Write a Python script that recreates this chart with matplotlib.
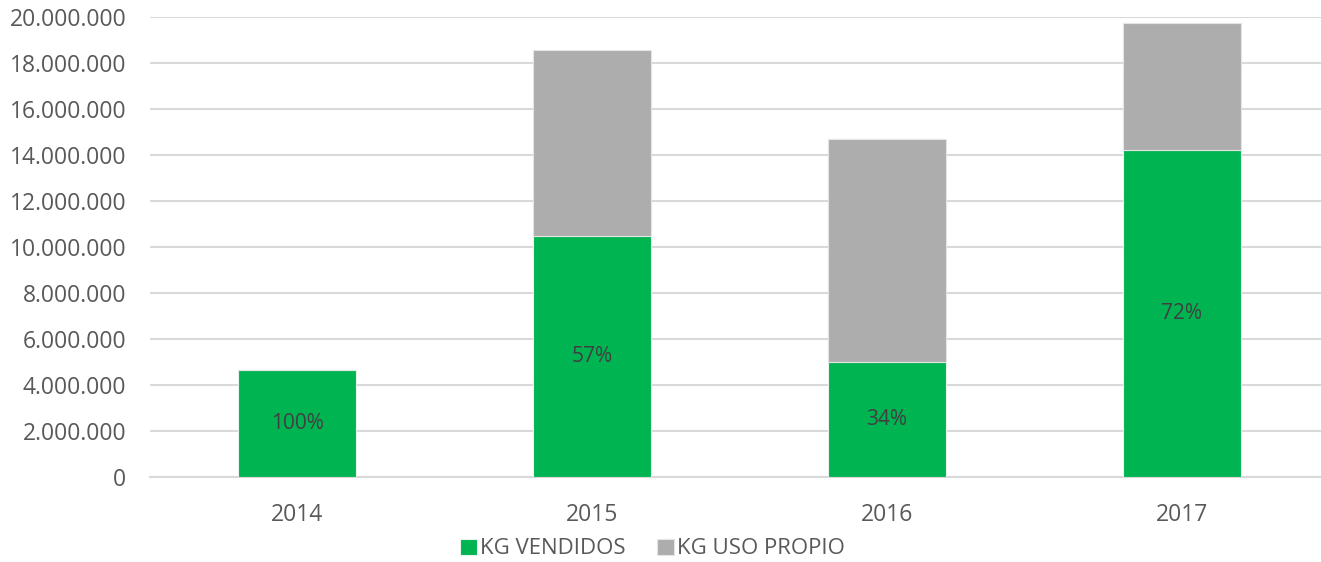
import matplotlib
matplotlib.use("Agg")
import matplotlib.pyplot as plt
from matplotlib.ticker import FuncFormatter, MultipleLocator
import numpy as np

years = ["2014", "2015", "2016", "2017"]
kg_vendidos = [4650000, 10480000, 5000000, 14220000]
kg_uso_propio = [0, 8090000, 9700000, 5520000]
pct_labels = ["100%", "57%", "34%", "72%"]
series_names = ["KG VENDIDOS", "KG USO PROPIO"]

plt.rcParams['font.family'] = ['Open Sans', 'DejaVu Sans']

W, H = 1321, 562
fig = plt.figure(figsize=(W / 100, H / 100), dpi=100)
left, right = 150 / W, 1329 / W
bottom, top = (H - 477) / H, (H - 17) / H
ax = fig.add_axes([left, bottom, right - left, top - bottom])

x = np.arange(len(years))
green = "#00B451"
gray = "#ADADAD"
b1 = ax.bar(x, kg_vendidos, width=0.40, color=green, edgecolor="#E6F2EA",
            linewidth=0.8, zorder=3, label=series_names[0])
b2 = ax.bar(x, kg_uso_propio, width=0.40, bottom=kg_vendidos, color=gray,
            edgecolor="#E4E4E4", linewidth=0.8, zorder=3, label=series_names[1])

for xi, v, lab in zip(x, kg_vendidos, pct_labels):
    ax.text(xi, v / 2, lab, ha="center", va="center", fontsize=15,
            color="#404040", zorder=4)

ax.set_xlim(-0.5, 3.5)
ax.set_ylim(0, 20000000)
ax.yaxis.set_major_locator(MultipleLocator(2000000))
ax.yaxis.set_major_formatter(FuncFormatter(lambda v, p: f"{int(v):,}".replace(",", ".")))
ax.set_xticks(x)
ax.set_xticklabels(years)
ax.grid(axis="y", color="#D9D9D9", linewidth=1.5, zorder=0)
ax.set_axisbelow(True)
for s in ["top", "right", "left"]:
    ax.spines[s].set_visible(False)
ax.spines["bottom"].set_color("#D9D9D9")
ax.spines["bottom"].set_linewidth(1.5)
ax.tick_params(axis="both", length=0, labelsize=16.5, colors="#595959")
ax.tick_params(axis="y", pad=17)
ax.tick_params(axis="x", pad=19)

leg = fig.legend(handles=[b1, b2], labels=series_names, loc="center",
                 bbox_to_anchor=(0.494, (H - 549) / H), ncol=2, frameon=False,
                 fontsize=16, handlelength=0.75, handleheight=0.75,
                 handletextpad=0.15, columnspacing=1.4)
for t in leg.get_texts():
    t.set_color("#595959")

fig.savefig("out.png", dpi=100)
